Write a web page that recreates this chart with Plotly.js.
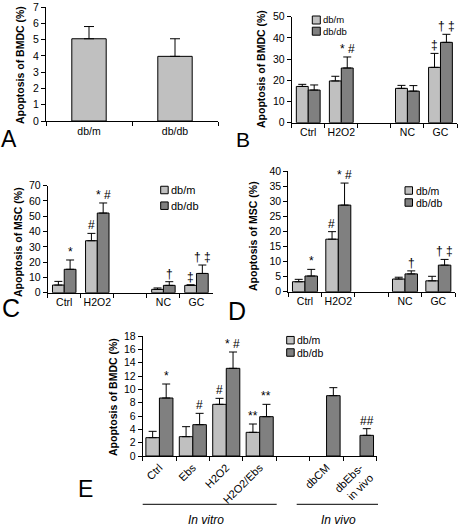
<!DOCTYPE html>
<html><head><meta charset="utf-8">
<script src="https://cdn.plot.ly/plotly-3.0.1.min.js"></script>
<style>html,body{margin:0;padding:0;background:#fff}#chart{width:458px;height:528px}</style>
</head><body><div id="chart"></div>
<script>
// ---------- DATA ----------
// Panel A
const catsA = ["db/m", "db/db"];
const valA = [5.05, 3.97];
const topA = [5.8, 5.05];
// Panel B (BMDC)
const catsB = ["Ctrl", "H2O2", " ", "NC", "GC"];
const dbmB = [17.1, 19.7, null, 16.2, 26.1];
const dbmTopB = [18.1, 21.9, null, 17.6, 32.7];
const dbdbB = [15.4, 25.8, null, 14.9, 37.9];
const dbdbTopB = [17.8, 31.0, null, 17.5, 41.7];
const markDbmB = ["", "", "", "", "\u2021"];
const markDbdbB = ["", "* #", "", "", "\u2020 \u2021"];
// Panel C (MSC)
const catsC = ["Ctrl", "H2O2", " ", "NC", "GC"];
const dbmC = [5.0, 34.0, null, 2.2, 4.8];
const dbmTopC = [7.4, 38.8, null, 3.1, 5.2];
const dbdbC = [15.3, 52.1, null, 4.8, 12.6];
const dbdbTopC = [21.4, 58.7, null, 7.2, 18.1];
const markDbmC = ["", "#", "", "", "\u2021"];
const markDbdbC = ["*", "* #", "", "\u2020", "\u2020 \u2021"];
// Panel D (MSC)
const catsD = ["Ctrl", "H2O2", " ", "NC", "GC"];
const dbmD = [3.3, 17.4, null, 4.2, 3.6];
const dbmTopD = [4.1, 19.9, null, 4.8, 5.1];
const dbdbD = [5.2, 28.7, null, 5.9, 8.8];
const dbdbTopD = [7.4, 36.0, null, 6.9, 10.7];
const markDbmD = ["", "#", "", "", ""];
const markDbdbD = ["*", "* #", "", "\u2020", "\u2020 \u2021"];
// Panel E (BMDC)
const catsE = ["Ctrl", "Ebs", "H2O2", "H2O2/Ebs", " ", "dbCM", "dbEbs-<br>in vivo"];
const dbmE = [2.75, 2.9, 7.75, 3.55, null, null, null];
const dbmTopE = [3.7, 4.4, 8.65, 4.8, null, null, null];
const dbdbE = [8.7, 4.7, 13.15, 5.9, null, 9.05, 3.1];
const dbdbTopE = [10.8, 6.4, 15.6, 7.75, null, 10.25, 4.1];
const markDbmE = ["", "", "#", "**", "", "", ""];
const markDbdbE = ["*", "#", "* #", "**", "", "", "##"];
const seriesNames = ["db/m", "db/db"];

// ---------- STYLE / LAYOUT ----------
const W = 458, H = 528;
const FONT = "Liberation Sans, Arial, sans-serif";
const C_LIGHT = "#c0c0c0", C_DARK = "#808080";
const px = v => v / W;
const py = v => 1 - v / H;

const traces = [];
const annotations = [];
const shapes = [];
const layout = {
  width: W, height: H, margin: {l: 0, r: 0, t: 0, b: 0},
  paper_bgcolor: "#fff", plot_bgcolor: "rgba(0,0,0,0)",
  showlegend: false, barmode: "overlay",
  font: {family: FONT, size: 11, color: "#000"},
  annotations, shapes
};

function axes(id, x0, x1, yTop, yBot, n, yMax, dtick, tickangle) {
  const sfx = id === 1 ? "" : String(id);
  layout["xaxis" + sfx] = {
    domain: [px(x0), px(x1)], anchor: "y" + sfx, type: "category",
    range: [-0.5, n - 0.5], showline: true, linecolor: "#000", linewidth: 1,
    ticks: "outside", ticklen: 4, tickcolor: "#000", tickson: "boundaries",
    showgrid: false, zeroline: false, tickangle: tickangle || 0,
    tickfont: {family: FONT, size: tickangle ? 11 : 10.5, color: "#000"}, fixedrange: true
  };
  layout["yaxis" + sfx] = {
    domain: [py(yBot), py(yTop)], anchor: "x" + sfx,
    range: [0, yMax], dtick: dtick, showline: true, linecolor: "#000", linewidth: 1,
    ticks: "outside", ticklen: 4, tickcolor: "#000", showgrid: false, zeroline: false,
    tickfont: {family: FONT, size: 10.5, color: "#000"}, fixedrange: true
  };
}

function bars(id, cats, vals, tops, color, off, w, capW, name) {
  const sfx = id === 1 ? "" : String(id);
  traces.push({
    type: "bar", x: cats, y: vals, xaxis: "x" + sfx, yaxis: "y" + sfx, name: name,
    offset: off, width: w,
    marker: {color: color, line: {color: "#000", width: 1}},
    error_y: {type: "data", symmetric: false,
      array: tops.map((t, i) => t == null ? null : t - vals[i]),
      arrayminus: vals.map(v => 0), color: "#000", thickness: 1, width: capW},
    hoverinfo: "skip"
  });
}

function marks(id, list, tops, center) {
  const sfx = id === 1 ? "" : String(id);
  list.forEach((m, i) => {
    if (!m) return;
    annotations.push({xref: "x" + sfx, yref: "y" + sfx, x: i + center, y: tops[i],
      text: m, showarrow: false, yanchor: "bottom", yshift: -1,
      font: {family: FONT, size: 12, color: "#000"}});
  });
}

function ytitle(text, x, y) {
  annotations.push({xref: "paper", yref: "paper", x: px(x), y: py(y), text: "<b>" + text + "</b>",
    textangle: -90, showarrow: false, xanchor: "center", yanchor: "middle",
    font: {family: FONT, size: 10.5, color: "#000"}});
}

function letter(t, x, y, size) {
  annotations.push({xref: "paper", yref: "paper", x: px(x), y: py(y), text: t,
    showarrow: false, xanchor: "left", yanchor: "middle",
    font: {family: FONT, size: size, color: "#000"}});
}

function legend(x, y1, y2, sq, fs) {
  [[y1, C_LIGHT, seriesNames[0]], [y2, C_DARK, seriesNames[1]]].forEach(([y, c, t]) => {
    shapes.push({type: "rect", xref: "paper", yref: "paper",
      x0: px(x), x1: px(x + sq), y0: py(y + sq / 2), y1: py(y - sq / 2),
      fillcolor: c, line: {color: "#000", width: 1}});
    annotations.push({xref: "paper", yref: "paper", x: px(x + sq + 2), y: py(y), text: t,
      showarrow: false, xanchor: "left", yanchor: "middle", borderpad: 0,
      font: {family: FONT, size: fs, color: "#000"}});
  });
}

// Panel A
axes(1, 46, 218, 7, 121, catsA.length, 7, 1);
bars(1, catsA, valA, topA, C_LIGHT, -0.2, 0.4, 5, "A");
ytitle("Apoptosis of BMDC (%)", 20, 65);
letter("A", -1, 139, 23);

// Panel B
axes(2, 291.7, 457, 16.7, 122.7, catsB.length, 50, 10);
bars(2, catsB, dbmB, dbmTopB, C_LIGHT, -0.36, 0.36, 4, seriesNames[0]);
bars(2, catsB, dbdbB, dbdbTopB, C_DARK, 0, 0.36, 4, seriesNames[1]);
marks(2, markDbmB, dbmTopB, -0.18);
marks(2, markDbdbB, dbdbTopB, 0.18);
ytitle("Apoptosis of BMDC (%)", 261, 69);
legend(312.3, 20.0, 31.2, 8, 9.5);
letter("B", 234, 139.5, 21);

// Panel C
axes(3, 47.7, 213, 185.7, 292.7, catsC.length, 70, 10);
bars(3, catsC, dbmC, dbmTopC, C_LIGHT, -0.355, 0.355, 4, seriesNames[0]);
bars(3, catsC, dbdbC, dbdbTopC, C_DARK, 0, 0.355, 4, seriesNames[1]);
marks(3, markDbmC, dbmTopC, -0.18);
marks(3, markDbdbC, dbdbTopC, 0.18);
ytitle("Apoptosis of MSC (%)", 18, 242);
legend(160.7, 190, 205.7, 7.5, 11);
letter("C", 0, 307.5, 25);

// Panel D
axes(4, 288.3, 455, 171, 291.7, catsD.length, 40, 5);
bars(4, catsD, dbmD, dbmTopD, C_LIGHT, -0.375, 0.375, 4, seriesNames[0]);
bars(4, catsD, dbdbD, dbdbTopD, C_DARK, 0, 0.375, 4, seriesNames[1]);
marks(4, markDbmD, dbmTopD, -0.19);
marks(4, markDbdbD, dbdbTopD, 0.19);
ytitle("Apoptosis of MSC (%)", 253, 236);
legend(405, 190.5, 202.5, 7.5, 10.5);
letter("D", 225.5, 311, 25);

// Panel E
axes(5, 142.7, 376.7, 336, 456, catsE.length, 18, 2, -45);
bars(5, catsE, dbmE, dbmTopE, C_LIGHT, -0.405, 0.405, 4, seriesNames[0]);
bars(5, catsE, dbdbE, dbdbTopE, C_DARK, 0, 0.405, 4, seriesNames[1]);
marks(5, markDbmE, dbmTopE, -0.2);
marks(5, markDbdbE, dbdbTopE, 0.2);
ytitle("Apoptosis of BMDC (%)", 113, 397);
legend(286.7, 340.2, 352.5, 7.5, 10.5);
letter("E", 75.5, 488.5, 23);

// group lines + labels (In vitro / In vivo)
shapes.push({type: "line", xref: "paper", yref: "paper", x0: px(142.7), x1: px(276.7), y0: py(504.3), y1: py(504.3), line: {color: "#000", width: 1}});
shapes.push({type: "line", xref: "paper", yref: "paper", x0: px(296.7), x1: px(378), y0: py(504.3), y1: py(504.3), line: {color: "#000", width: 1}});
annotations.push({xref: "paper", yref: "paper", x: px(206), y: py(520), text: "<i>In vitro</i>", showarrow: false, xanchor: "center", yanchor: "middle", font: {family: FONT, size: 12, color: "#000"}});
annotations.push({xref: "paper", yref: "paper", x: px(338), y: py(520), text: "<i>In vivo</i>", showarrow: false, xanchor: "center", yanchor: "middle", font: {family: FONT, size: 12, color: "#000"}});

Plotly.newPlot("chart", traces, layout, {displayModeBar: false, staticPlot: true});
</script></body></html>
